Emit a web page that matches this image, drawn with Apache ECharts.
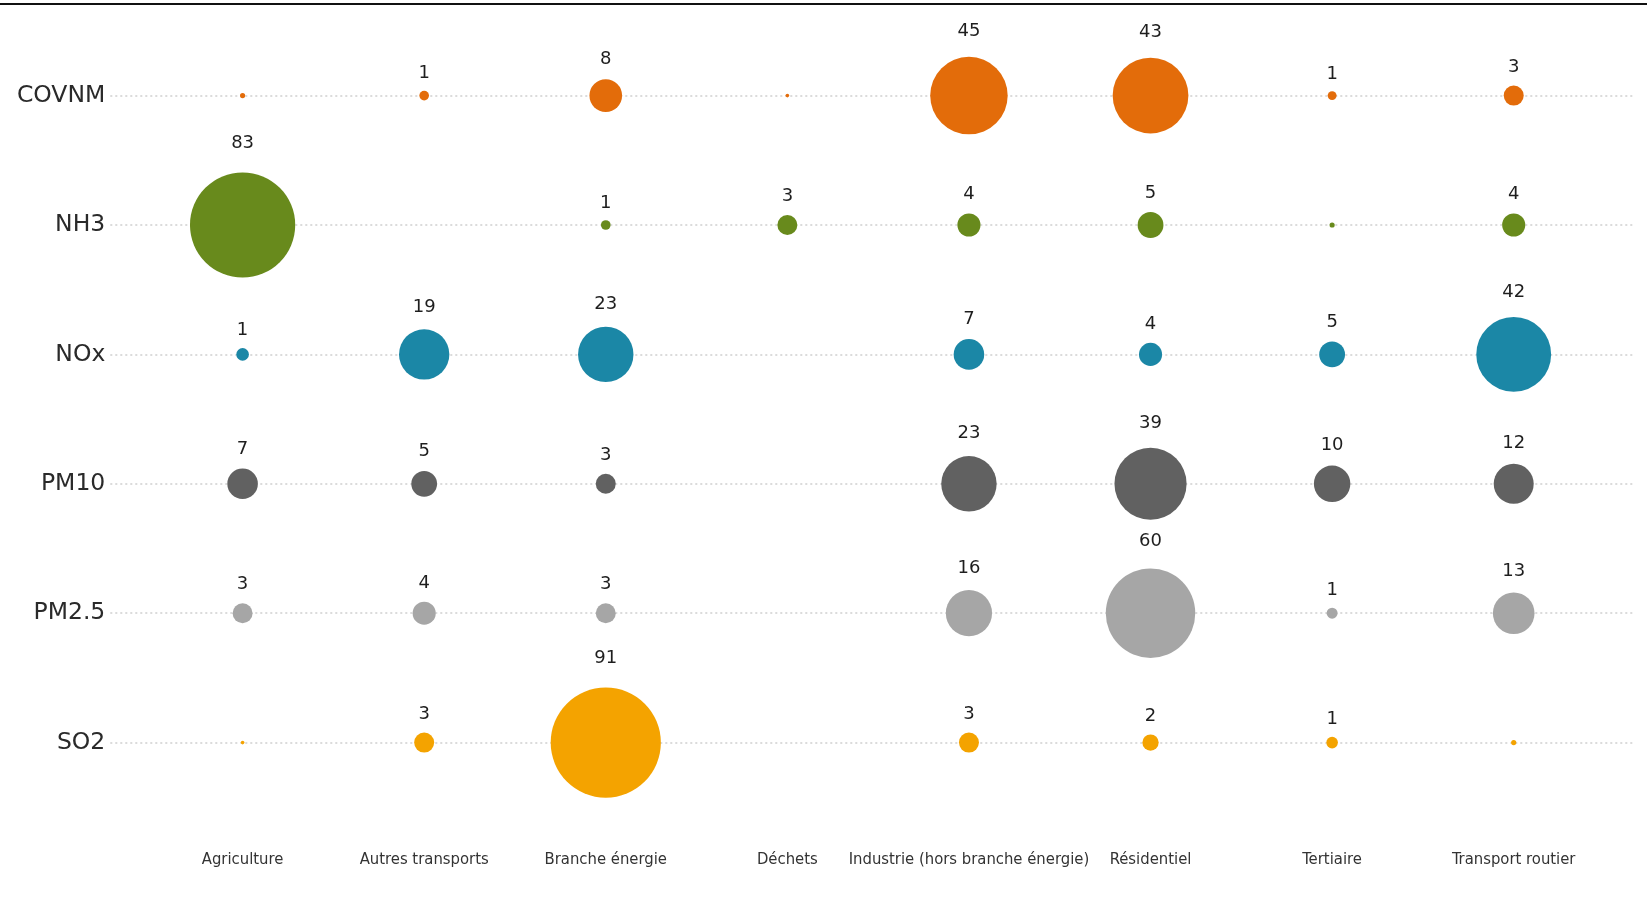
<!DOCTYPE html>
<html><head><meta charset="utf-8">
<script src="https://cdn.jsdelivr.net/npm/echarts@6/dist/echarts.min.js"></script>
<style>html,body{margin:0;padding:0;background:#fff}#c{width:1647px;height:898px}</style>
</head><body><div id="c"></div>
<script>
const sectors = ['Agriculture','Autres transports','Branche énergie','Déchets','Industrie (hors branche énergie)','Résidentiel','Tertiaire','Transport routier'];
const pollutants = ['COVNM','NH3','NOx','PM10','PM2.5','SO2'];
// values per pollutant, in sector order (null = no emission shown)
const COVNM = [0.2, 0.7, 8, 0.1, 45, 43, 0.6, 3];
const NH3   = [83, null, 0.7, 3, 4, 5, 0.2, 4];
const NOx   = [1.2, 19, 23, null, 7, 4, 5, 42];
const PM10  = [7, 5, 3, null, 23, 39, 10, 12];
const PM25  = [3, 4, 3, null, 16, 60, 0.9, 13];
const SO2   = [0.1, 3, 91, null, 3, 2, 1, 0.2];
const seriesValues = [COVNM, NH3, NOx, PM10, PM25, SO2];
const colors = ['#e36c0a','#688a1c','#1b87a6','#616161','#a6a6a6','#f4a300'];

const sizeOf = v => 11.55 * Math.sqrt(v);

const series = pollutants.map((p, pi) => ({
  name: p,
  type: 'scatter',
  xAxisIndex: 0, yAxisIndex: 0,
  itemStyle: { color: colors[pi], opacity: 1 },
  data: seriesValues[pi].map((v, si) => v == null ? null : {
    value: [si, pi, v],
    symbolSize: sizeOf(v),
    label: {
      show: Math.round(v) >= 1,
      position: 'top',
      distance: 7 + 0.12 * sizeOf(v),
      formatter: String(Math.round(v)),
      color: '#1e1e1e',
      fontSize: 18,
      fontFamily: 'DejaVu Sans'
    }
  }).filter(d => d)
}));

const chart = echarts.init(document.getElementById('c'));
chart.setOption({
  animation: false,
  backgroundColor: '#fff',
  graphic: [{ type: 'line', shape: { x1: 0, y1: 4, x2: 1647, y2: 4 }, style: { stroke: '#111', lineWidth: 2 } }],
  grid: [
    { left: 151.8, right: 42.5, top: 95.6, bottom: 155.4 },
    { left: 110.3, right: 13.6, top: 95.6, bottom: 155.4 }
  ],
  xAxis: [
    { type: 'category', gridIndex: 0, data: sectors, boundaryGap: true,
      axisLine: { show: false }, axisTick: { show: false }, splitLine: { show: false },
      axisLabel: { interval: 0, margin: 109, color: '#333', fontSize: 16.5,
        fontFamily: "'Liberation Sans Narrow','DejaVu Sans Condensed',sans-serif" } },
    { type: 'value', gridIndex: 1, show: false, min: 0, max: 1 }
  ],
  yAxis: [
    { type: 'category', gridIndex: 0, data: pollutants, inverse: true, boundaryGap: false, show: false },
    { type: 'category', gridIndex: 1, data: pollutants, inverse: true, boundaryGap: false,
      axisLine: { show: false }, axisTick: { show: false },
      axisLabel: { margin: 5, color: '#2a2a2a', fontSize: 23.5, fontFamily: 'DejaVu Sans' },
      splitLine: { show: true, lineStyle: { type: [2, 3], color: '#cfcfcf', width: 1.5 } } }
  ],
  series: series
});
</script></body></html>
